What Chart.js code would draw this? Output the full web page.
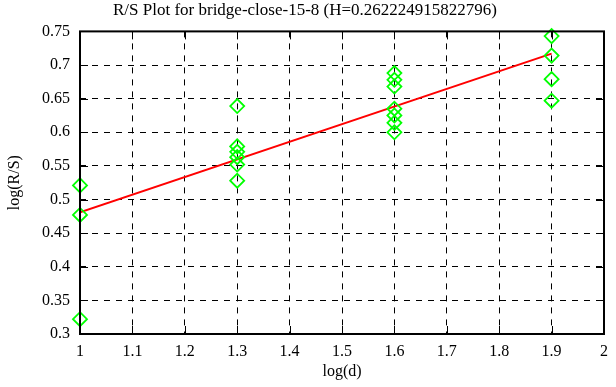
<!DOCTYPE html>
<html>
<head>
<meta charset="utf-8">
<script src="https://cdn.jsdelivr.net/npm/chart.js@4"></script>
<style>
  html, body { margin: 0; padding: 0; background: #fff; }
  #wrap { width: 616px; height: 387px; }
</style>
</head>
<body>
<div id="wrap"><canvas id="chartCanvas"></canvas></div>
<script>
// log(d) positions and the log(R/S) values read at each one
const xs1 = [1, 1, 1];
const ys1 = [0.521, 0.477, 0.322];
const xs2 = [1.3, 1.3, 1.3, 1.3, 1.3, 1.3];
const ys2 = [0.639, 0.579, 0.571, 0.563, 0.552, 0.528];
const xs3 = [1.6, 1.6, 1.6, 1.6, 1.6, 1.6, 1.6];
const ys3 = [0.688, 0.678, 0.668, 0.635, 0.625, 0.614, 0.600];
const xs4 = [1.9, 1.9, 1.9, 1.9];
const ys4 = [0.743, 0.714, 0.679, 0.647];

// fitted line end points
const fitX = [1, 1.9];
const fitY = [0.481, 0.717];

const titleText = "R/S Plot for bridge-close-15-8 (H=0.262224915822796)";

const allX = [].concat(xs1, xs2, xs3, xs4);
const allY = [].concat(ys1, ys2, ys3, ys4);
const points = allX.map((x, i) => ({ x: x, y: allY[i] }));
const fitPoints = fitX.map((x, i) => ({ x: x, y: fitY[i] }));

const serif = "'Liberation Serif', 'DejaVu Serif', serif";

// box round the plot plus inward ticks on all four sides
const frame = {
    id: "frame",
    afterDatasetsDraw(chart) {
        const ctx = chart.ctx;
        const a = chart.chartArea;
        const xs = chart.scales.x, ys = chart.scales.y;
        ctx.save();
        ctx.strokeStyle = "#000";
        ctx.lineWidth = 1;
        xs.ticks.forEach(t => {
            const px = Math.round(xs.getPixelForValue(t.value)) + 0.5;
            ctx.beginPath();
            ctx.moveTo(px, a.bottom); ctx.lineTo(px, a.bottom - 8);
            ctx.moveTo(px, a.top); ctx.lineTo(px, a.top + 8);
            ctx.stroke();
        });
        ys.ticks.forEach(t => {
            const py = Math.round(ys.getPixelForValue(t.value)) + 0.5;
            ctx.beginPath();
            ctx.moveTo(a.left, py); ctx.lineTo(a.left + 8, py);
            ctx.moveTo(a.right, py); ctx.lineTo(a.right - 8, py);
            ctx.stroke();
        });
        ctx.lineWidth = 2;
        ctx.strokeRect(a.left, a.top, a.right - a.left, a.bottom - a.top);
        ctx.restore();
    }
};

const ctx = document.getElementById("chartCanvas").getContext("2d");

new Chart(ctx, {
    type: "scatter",
    data: {
        datasets: [
            {
                label: "fit",
                type: "line",
                data: fitPoints,
                borderColor: "#ff0000",
                borderWidth: 2,
                pointRadius: 0,
                fill: false,
                order: 1
            },
            {
                label: "R/S",
                data: points,
                pointStyle: "rectRot",
                pointRadius: 7,
                pointHoverRadius: 7,
                borderColor: "#00ff00",
                backgroundColor: "rgba(0,0,0,0)",
                borderWidth: 1.8,
                clip: false,
                order: 0
            }
        ]
    },
    options: {
        responsive: true,
        maintainAspectRatio: false,
        animation: false,
        layout: { padding: { left: 0, right: 6, top: 0, bottom: 0 } },
        plugins: {
            legend: { display: false },
            tooltip: { enabled: false },
            title: {
                display: true,
                text: titleText,
                color: "#000",
                font: { family: serif, size: 17, weight: "normal" },
                padding: { top: 0, bottom: 11 }
            }
        },
        scales: {
            x: {
                type: "linear",
                min: 1,
                max: 2,
                ticks: {
                    stepSize: 0.1,
                    color: "#000",
                    padding: 8,
                    font: { family: serif, size: 16 },
                    callback: v => parseFloat(v.toFixed(1))
                },
                grid: {
                    color: "#000",
                    lineWidth: 1,
                    drawTicks: false
                },
                border: { display: false, dash: [6, 6] },
                title: {
                    display: true,
                    text: "log(d)",
                    color: "#000",
                    font: { family: serif, size: 16 },
                    padding: { top: 2, bottom: 6 }
                },
                afterFit: s => { s.height = 53; }
            },
            y: {
                type: "linear",
                min: 0.3,
                max: 0.75,
                ticks: {
                    stepSize: 0.05,
                    color: "#000",
                    padding: 10,
                    font: { family: serif, size: 16 },
                    callback: v => parseFloat(v.toFixed(2))
                },
                grid: {
                    color: "#000",
                    lineWidth: 1,
                    drawTicks: false
                },
                border: { display: false, dash: [6, 6] },
                title: {
                    display: true,
                    text: "log(R/S)",
                    color: "#000",
                    font: { family: serif, size: 16 },
                    padding: { top: 5, bottom: 0 }
                },
                afterFit: s => { s.width = 80; }
            }
        }
    },
    plugins: [frame]
});
</script>
</body>
</html>
